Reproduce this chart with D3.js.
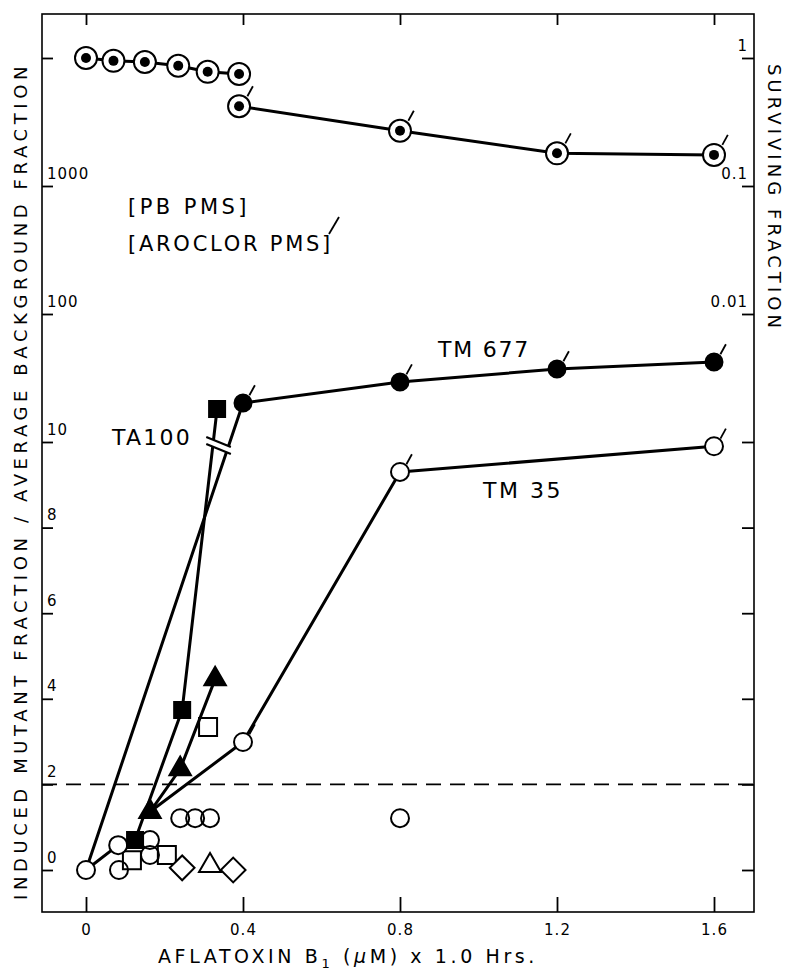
<!DOCTYPE html>
<html>
<head>
<meta charset="utf-8">
<script src="https://cdnjs.cloudflare.com/ajax/libs/d3/7.8.5/d3.min.js"></script>
<style>
  body { margin: 0; background: #fff; }
  svg { display: block; font-family: "DejaVu Sans", sans-serif; }
</style>
</head>
<body>
<svg class="chart"></svg>
<script>
// axes
var doseTicks = [0, 0.4, 0.8, 1.2, 1.6];
var doseTickLabels = ['0', '0.4', '0.8', '1.2', '1.6'];
var mutantLinTicks = [0, 2, 4, 6, 8, 10];
var mutantLinLabels = ['0', '2', '4', '6', '8', '10'];
var mutantLogTicks = [100, 1000, 10000];
var mutantLogLabels = ['100', '1000', ''];
var survTicks = [1, 0.1, 0.01];
var survTickLabels = ['1', '0.1', '0.01'];
var backgroundLevel = 2;
var breakLevel = 10;

// surviving fraction, PB PMS (circled dots)
var pbSurvDose = [0, 0.07, 0.15, 0.235, 0.31, 0.39];
var pbSurvValue = [1.0, 0.95, 0.93, 0.87, 0.78, 0.75];
// surviving fraction, Aroclor PMS
var aroSurvDose = [0.39, 0.8, 1.2, 1.6];
var aroSurvValue = [0.42, 0.27, 0.18, 0.175];

// connecting lines of the mutant fraction curves
var tm677LineDose = [0, 0.4, 0.8, 1.2, 1.6];
var tm677LineValue = [0, 20.2, 29.4, 37.2, 42.2];
var ta100LineDose = [0, 0.082, 0.125, 0.245, 0.334];
var ta100LineValue = [0, 0.58, 0.7, 3.74, 18.1];
var triLineDose = [0.163, 0.24, 0.329];
var triLineValue = [1.36, 2.36, 4.46];
var tm35LineDose = [0.163, 0.4, 0.8, 1.6];
var tm35LineValue = [1.36, 2.99, 9.3, 9.9];

// markers
var tm677Dose = [0.4, 0.8, 1.2, 1.6];
var tm677Value = [20.2, 29.4, 37.2, 42.2];
var tm35Dose = [0.4, 0.8, 1.6];
var tm35Value = [2.99, 9.3, 9.9];
var lineCircleDose = [0, 0.082];
var lineCircleValue = [0, 0.58];
var openCircleDose = [0.084, 0.163, 0.163, 0.24, 0.278, 0.316, 0.8];
var openCircleValue = [0, 0.70, 0.35, 1.21, 1.21, 1.21, 1.21];
var filledSquareDose = [0.125, 0.245, 0.334];
var filledSquareValue = [0.7, 3.74, 18.1];
var openSquareDose = [0.117, 0.206, 0.311];
var openSquareValue = [0.23, 0.35, 3.34];
var filledTriDose = [0.163, 0.24, 0.329];
var filledTriValue = [1.36, 2.36, 4.46];
var openTriDose = [0.316];
var openTriValue = [0.1];
var diamondDose = [0.245, 0.375];
var diamondValue = [0.05, 0];

var W = 788, H = 980;
var frame = { left: 42, right: 754, top: 14, bottom: 912 };

var svg = d3.select('svg.chart').attr('width', W).attr('height', H);

var x = d3.scaleLinear().domain([0, 1.6]).range([86, 714]);
var yLin = d3.scaleLinear().domain([0, 10]).range([870, 442]);
var yLog = d3.scaleLog().domain([10, 10000]).range([442, 58]);
var ySurv = d3.scaleLog().domain([0.01, 1]).range([314, 58]);

// broken axis: linear up to 10, log above
var y = function (v) {
  return v <= breakLevel ? yLin(v) : yLog(v);
};

var zip = function (xs, ys) {
  return xs.map(function (d, i) { return [d, ys[i]]; });
};

// frame
svg.append('rect')
  .attr('x', frame.left).attr('y', frame.top)
  .attr('width', frame.right - frame.left).attr('height', frame.bottom - frame.top)
  .attr('fill', 'none').attr('stroke', '#000').attr('stroke-width', 1.6);

var styleAxis = function (g) {
  g.select('.domain').remove();
  g.selectAll('line').attr('stroke', '#000').attr('stroke-width', 1.8);
  g.selectAll('text').attr('fill', '#000').style('font-size', '15px')
    .style('letter-spacing', '1px').style('font-family', '"DejaVu Sans", sans-serif');
};

svg.append('g')
  .attr('transform', 'translate(0,' + frame.bottom + ')')
  .call(d3.axisBottom(x).tickValues(doseTicks).tickSizeInner(-15).tickSizeOuter(0)
    .tickPadding(12).tickFormat(function (d, i) { return doseTickLabels[i]; }))
  .call(styleAxis);

svg.append('g')
  .attr('transform', 'translate(0,' + frame.top + ')')
  .call(d3.axisBottom(x).tickValues(doseTicks).tickSizeInner(11).tickSizeOuter(0).tickFormat(''))
  .call(styleAxis);

var leftLabels = function (g) {
  g.selectAll('text').attr('x', 5).attr('dy', null).attr('y', -8).attr('text-anchor', 'start');
};

svg.append('g')
  .attr('transform', 'translate(' + frame.left + ',0)')
  .call(d3.axisRight(yLin).tickValues(mutantLinTicks).tickSizeInner(11).tickSizeOuter(0)
    .tickFormat(function (d, i) { return mutantLinLabels[i]; }))
  .call(styleAxis).call(leftLabels);

svg.append('g')
  .attr('transform', 'translate(' + frame.left + ',0)')
  .call(d3.axisRight(yLog).tickValues(mutantLogTicks).tickSizeInner(11).tickSizeOuter(0)
    .tickFormat(function (d, i) { return mutantLogLabels[i]; }))
  .call(styleAxis).call(leftLabels);

svg.append('g')
  .attr('transform', 'translate(' + frame.right + ',0)')
  .call(d3.axisLeft(ySurv).tickValues(survTicks).tickSizeInner(12).tickSizeOuter(0)
    .tickFormat(function (d, i) { return survTickLabels[i]; }))
  .call(styleAxis)
  .call(function (g) {
    g.selectAll('text').attr('x', -6).attr('dy', null).attr('y', -8).attr('text-anchor', 'end');
  });

svg.append('g')
  .attr('transform', 'translate(' + frame.right + ',0)')
  .call(d3.axisLeft(yLin).tickValues(mutantLinTicks).tickSizeInner(12).tickSizeOuter(0).tickFormat(''))
  .call(styleAxis);

// background level
svg.append('line')
  .attr('x1', frame.left).attr('x2', frame.right)
  .attr('y1', y(backgroundLevel)).attr('y2', y(backgroundLevel))
  .attr('stroke', '#000').attr('stroke-width', 1.6).attr('stroke-dasharray', '15,9');

// lines
var mutLine = d3.line().x(function (d) { return x(d[0]); }).y(function (d) { return y(d[1]); });
var survLine = d3.line().x(function (d) { return x(d[0]); }).y(function (d) { return ySurv(d[1]); });

var drawPath = function (gen, pts) {
  svg.append('path').attr('d', gen(pts))
    .attr('fill', 'none').attr('stroke', '#000').attr('stroke-width', 3)
    .attr('stroke-linejoin', 'round');
};

drawPath(survLine, zip(pbSurvDose, pbSurvValue));
drawPath(survLine, zip(aroSurvDose, aroSurvValue));
drawPath(mutLine, zip(tm677LineDose, tm677LineValue));
drawPath(mutLine, zip(ta100LineDose, ta100LineValue));
drawPath(mutLine, zip(triLineDose, triLineValue));
drawPath(mutLine, zip(tm35LineDose, tm35LineValue));

// axis break mark across the two steep lines
var crossAt = function (xs, vs, level) {
  for (var i = 1; i < xs.length; i++) {
    if (vs[i - 1] <= level && vs[i] > level) {
      var y0 = y(vs[i - 1]), y1 = y(vs[i]), yb = y(level);
      var t = (yb - y0) / (y1 - y0);
      return x(xs[i - 1]) + t * (x(xs[i]) - x(xs[i - 1]));
    }
  }
};
var bx0 = crossAt(ta100LineDose, ta100LineValue, breakLevel);
var bx1 = crossAt(tm677LineDose, tm677LineValue, breakLevel);
var by = y(breakLevel);
var bl = bx0 - 7, br = bx1 + 1;
svg.append('path')
  .attr('d', 'M' + bl + ',' + (by - 5) + 'L' + br + ',' + (by + 5) +
    'L' + br + ',' + (by + 12) + 'L' + bl + ',' + (by + 2) + 'Z')
  .attr('fill', '#fff');
[by - 5, by + 2].forEach(function (yy) {
  svg.append('line')
    .attr('x1', bl).attr('y1', yy).attr('x2', br).attr('y2', yy + 10)
    .attr('stroke', '#000').attr('stroke-width', 2.2);
});

// markers
var sym = function (type, size, fill, stroke, rot) {
  return function (pts, yScale) {
    svg.append('g').selectAll('path').data(pts).enter().append('path')
      .attr('d', d3.symbol().type(type).size(size)())
      .attr('transform', function (d) {
        return 'translate(' + x(d[0]) + ',' + yScale(d[1]) + ')' + (rot ? ' rotate(' + rot + ')' : '');
      })
      .attr('fill', fill).attr('stroke', stroke).attr('stroke-width', 2);
  };
};

// "/" marks for Aroclor PMS points
var aroTicks = function (pts, yScale, r) {
  svg.append('g').selectAll('line').data(pts).enter().append('line')
    .attr('x1', function (d) { return x(d[0]) + r * 0.64; })
    .attr('y1', function (d) { return yScale(d[1]) - r * 0.77; })
    .attr('x2', function (d) { return x(d[0]) + r * 0.64 + 5.5; })
    .attr('y2', function (d) { return yScale(d[1]) - r * 0.77 - 10; })
    .attr('stroke', '#000').attr('stroke-width', 1.8);
};

var circledDot = function (pts) {
  sym(d3.symbolCircle, Math.PI * 11 * 11, '#fff', '#000')(pts, ySurv);
  sym(d3.symbolCircle, Math.PI * 5 * 5, '#000', 'none')(pts, ySurv);
};

circledDot(zip(pbSurvDose, pbSurvValue));
circledDot(zip(aroSurvDose, aroSurvValue));
aroTicks(zip(aroSurvDose, aroSurvValue), ySurv, 13);

sym(d3.symbolCircle, Math.PI * 9 * 9, 'none', '#000')(zip(openCircleDose, openCircleValue), y);
sym(d3.symbolSquare, 18 * 18, 'none', '#000')(zip(openSquareDose, openSquareValue), y);
sym(d3.symbolSquare, 17.5 * 17.5, '#fff', '#000', 45)(zip(diamondDose, diamondValue), y);
sym(d3.symbolTriangle, 210, 'none', '#000')(zip(openTriDose, openTriValue), y);
sym(d3.symbolCircle, Math.PI * 9 * 9, '#fff', '#000')(zip(lineCircleDose, lineCircleValue), y);
sym(d3.symbolCircle, Math.PI * 9 * 9, '#fff', '#000')(zip(tm35Dose, tm35Value), y);
aroTicks(zip(tm35Dose, tm35Value), y, 10);
sym(d3.symbolCircle, Math.PI * 8.5 * 8.5, '#000', '#000')(zip(tm677Dose, tm677Value), y);
aroTicks(zip(tm677Dose, tm677Value), y, 10);
sym(d3.symbolSquare, 16 * 16, '#000', '#000')(zip(filledSquareDose, filledSquareValue), y);
sym(d3.symbolTriangle, 200, '#000', '#000')(zip(filledTriDose, filledTriValue), y);

// text
var fitWidth = function (t, target) {
  var w = t.node().getComputedTextLength();
  var n = t.text().length;
  t.style('letter-spacing', ((target - w) / n) + 'px');
  return t;
};

var label = function (str, x0, yb, width, size) {
  var t = svg.append('text').attr('x', x0).attr('y', yb)
    .style('font-size', size + 'px').attr('fill', '#000').text(str);
  return fitWidth(t, width);
};

label('[PB PMS]', 128, 214, 122, 21);
label('[AROCLOR PMS]', 128, 251, 205, 21);
svg.append('line').attr('x1', 329).attr('y1', 234).attr('x2', 339).attr('y2', 217)
  .attr('stroke', '#000').attr('stroke-width', 1.8);
label('TM 677', 438, 357, 92, 22);
label('TM 35', 483, 498, 80, 22);
label('TA100', 112, 445, 80, 22);

// axis titles
var xt = svg.append('text').attr('x', 158).attr('y', 963)
  .style('font-size', '19px').attr('fill', '#000');
xt.append('tspan').text('AFLATOXIN B');
xt.append('tspan').attr('dy', 5).style('font-size', '13px').text('1');
xt.append('tspan').attr('dy', -5).text(' (');
xt.append('tspan').style('font-style', 'italic').text('\u03bc');
xt.append('tspan').text('M) x 1.0 Hrs.');
fitWidth(xt, 380);

var yt = svg.append('text')
  .attr('transform', 'translate(27,481) rotate(-90)')
  .attr('text-anchor', 'middle').style('font-size', '18px').attr('fill', '#000')
  .text('INDUCED MUTANT FRACTION / AVERAGE BACKGROUND FRACTION');
fitWidth(yt, 838);

var st = svg.append('text')
  .attr('transform', 'translate(768,198) rotate(90)')
  .attr('text-anchor', 'middle').style('font-size', '18px').attr('fill', '#000')
  .text('SURVIVING FRACTION');
fitWidth(st, 268);
</script>
</body>
</html>
